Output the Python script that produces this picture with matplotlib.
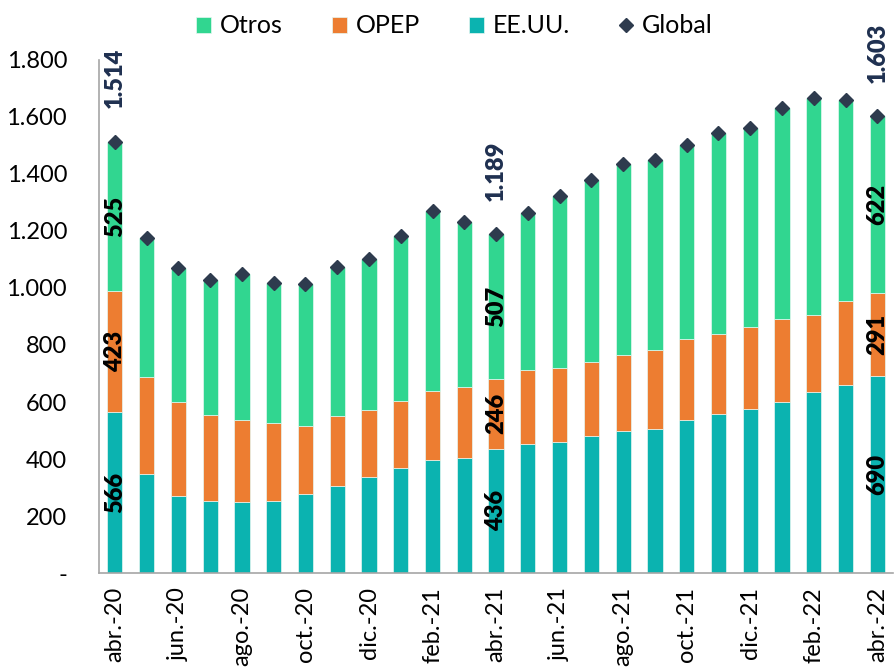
import numpy as np
import matplotlib
matplotlib.use("Agg")
from matplotlib import pyplot as plt

# monthly values, abr-20 .. abr-22
months = ["abr.-20", "may.-20", "jun.-20", "jul.-20", "ago.-20", "sep.-20",
          "oct.-20", "nov.-20", "dic.-20", "ene.-21", "feb.-21", "mar.-21",
          "abr.-21", "may.-21", "jun.-21", "jul.-21", "ago.-21", "sep.-21",
          "oct.-21", "nov.-21", "dic.-21", "ene.-22", "feb.-22", "mar.-22",
          "abr.-22"]
eeuu = [566, 346, 271, 252, 248, 253, 278, 307, 336, 367, 396, 405, 436,
        451, 461, 481, 498, 505, 536, 559, 577, 600, 634, 658, 690]
opep = [423, 342, 330, 301, 290, 274, 239, 245, 237, 238, 241, 248, 246,
        262, 257, 260, 268, 278, 285, 281, 286, 290, 272, 298, 291]
otros = [525, 486, 470, 476, 512, 490, 498, 521, 529, 576, 632, 577, 507,
         549, 606, 638, 669, 666, 682, 704, 698, 741, 762, 704, 622]
glob = [1514, 1174, 1071, 1029, 1050, 1017, 1015, 1073, 1102, 1181, 1269,
        1230, 1189, 1262, 1324, 1379, 1435, 1449, 1503, 1544, 1561, 1631,
        1668, 1660, 1603]
labeled = [0, 12, 24]

teal = "#0BB3B0"
orange = "#ED7D31"
green = "#31D690"
navy = "#1F3050"
diamond = "#2E3B4E"

plt.rcParams["font.family"] = ["Lato", "DejaVu Sans"]

fig = plt.figure(figsize=(8.95, 6.68), dpi=100)
ax = fig.add_axes([0.1106, 0.1422, 0.8874, 0.768])

x = np.arange(len(months))
w = 0.48
bot2 = np.array(eeuu) + np.array(opep)
b_us = ax.bar(x, eeuu, w, color=teal, edgecolor="#e6f7f2", linewidth=0.5)
b_op = ax.bar(x, opep, w, bottom=eeuu, color=orange, edgecolor="#e6f7f2", linewidth=0.5)
b_ot = ax.bar(x, otros, w, bottom=bot2, color=green, edgecolor="#e6f7f2", linewidth=0.5)
gl, = ax.plot(x, glob, linestyle="none", marker="D", markersize=7.5, color=diamond)

def fmt(v):
    return "{:,}".format(int(v)).replace(",", ".")

bold = dict(rotation=90, ha="center", va="center", fontsize=17,
            fontweight="heavy", family=["Lato", "DejaVu Sans"])

# segment labels and totals
for i in labeled:
    ax.text(x[i], eeuu[i] / 2, str(eeuu[i]), color="black", **bold)
    ax.text(x[i], eeuu[i] + opep[i] / 2, str(opep[i]), color="black", **bold)
    ax.text(x[i], bot2[i] + otros[i] / 2, str(otros[i]), color="black", **bold)
    ax.annotate(fmt(glob[i]), (x[i], glob[i]), xytext=(0, 24), textcoords="offset points",
                rotation=90, ha="center", va="bottom", fontsize=17, fontweight="heavy",
                color=navy)

ax.set_xlim(-0.5, len(months) - 0.5)
ax.set_ylim(0, 1800)
yt = np.arange(0, 1801, 200)
ax.set_yticks(yt)
ax.set_yticklabels(["-"] + [fmt(v) for v in yt[1:]], fontsize=17)
ax.set_xticks(x[::2])
ax.set_xticklabels(months[::2], rotation=90, fontsize=17)
ax.tick_params(axis="y", length=0, pad=23)
ax.tick_params(axis="x", length=0, pad=10)

for s in ["top", "right"]:
    ax.spines[s].set_visible(False)
for s in ["left", "bottom"]:
    ax.spines[s].set_color("#A6A6A6")
    ax.spines[s].set_linewidth(1.2)

fig.legend([b_ot, b_op, b_us, gl], ["Otros", "OPEP", "EE.UU.", "Global"],
           loc="upper center", bbox_to_anchor=(0.508, 1.012), ncol=4, frameon=False,
           fontsize=18, handlelength=0.6, handleheight=0.6, handletextpad=0.35,
           columnspacing=1.95)

fig.savefig("out.png", dpi=100)
